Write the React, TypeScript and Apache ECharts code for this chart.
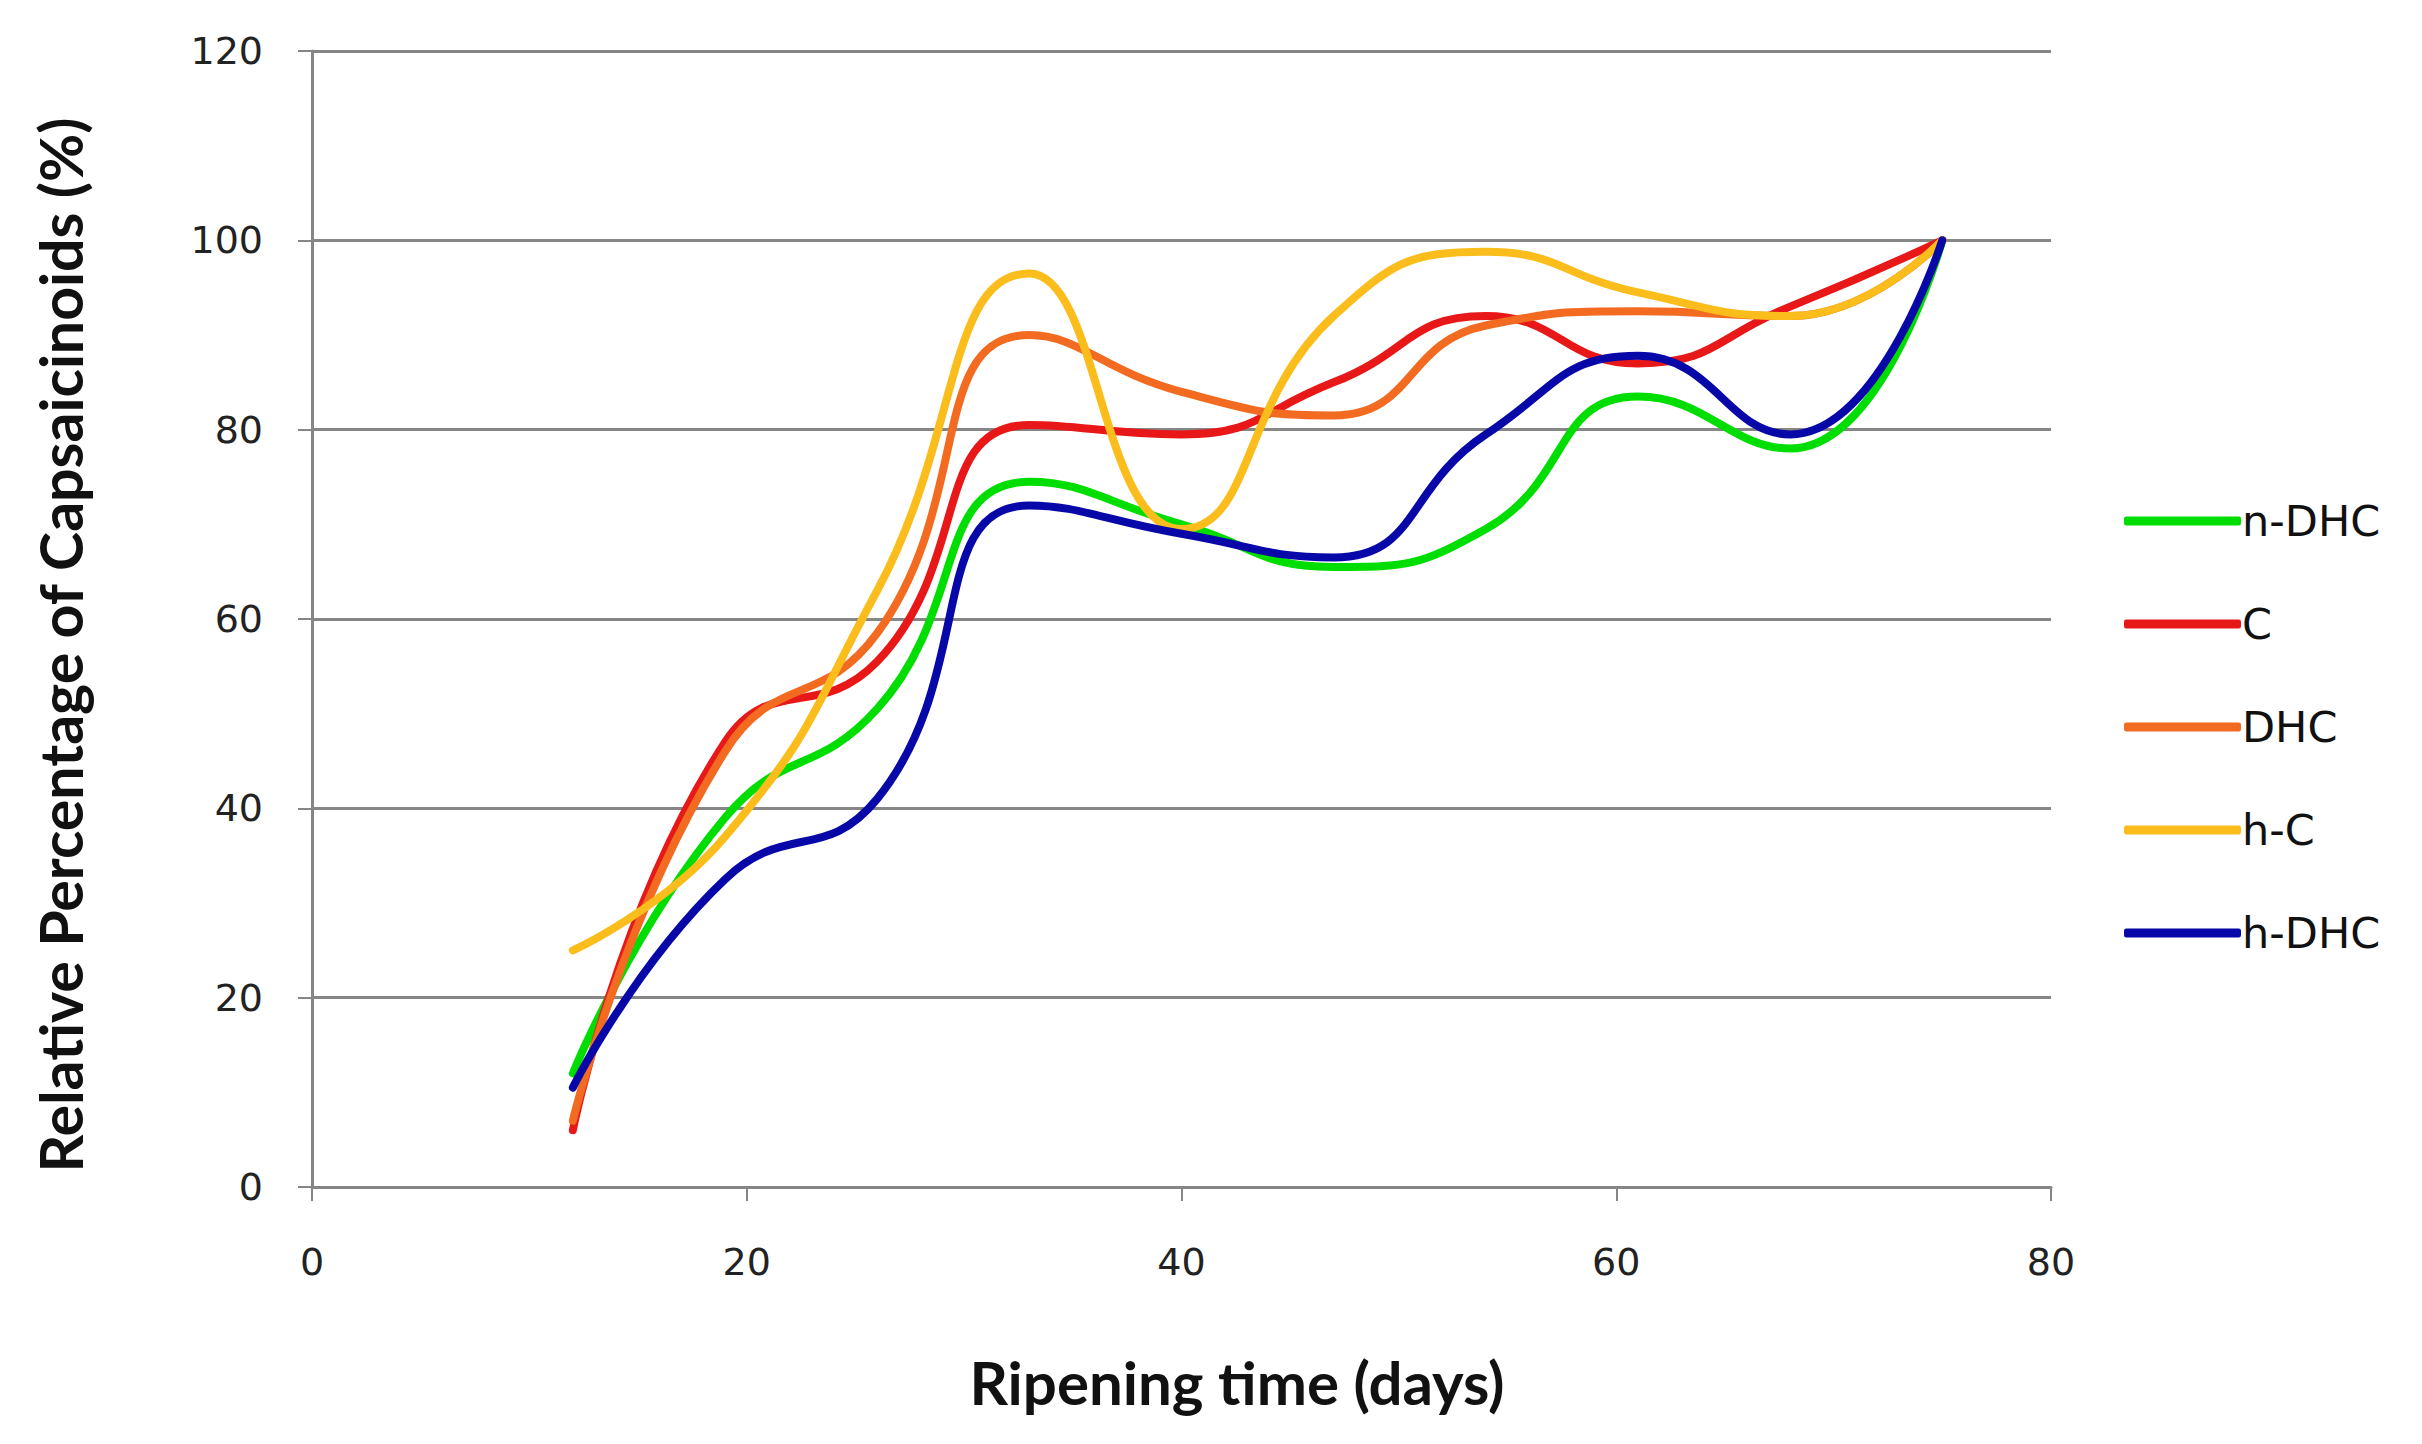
import React, { useEffect, useRef } from "react";
import * as echarts from "echarts";

const days = [12, 19, 26, 33, 40, 47, 54, 61, 68, 75];
const seriesNames = ["n-DHC", "C", "DHC", "h-C", "h-DHC"];
const nDHC = [12, 39, 50.5, 74.5, 70, 65.5, 69.5, 83.5, 78, 100];
const cap = [6, 47, 55.5, 80.5, 79.5, 85, 92, 87, 93, 100];
const dhc = [7, 46, 58.5, 90, 84, 81.5, 91, 92.5, 92, 100];
const hC = [25, 37, 63, 96.5, 69.5, 92, 98.8, 94.5, 92, 100];
const hDHC = [10.5, 32.5, 41, 72, 69, 66.5, 79.5, 87.8, 79.5, 100];
const seriesValues = [nDHC, cap, dhc, hC, hDHC];
const colors = ["#00dd00", "#e81818", "#f26b20", "#fabd1c", "#0808a8"];
const xTitle = "Ripening time (days)";
const yTitle = "Relative Percentage of Capsaicinoids (%)";

export default function App() {
  const ref = useRef<HTMLDivElement>(null);
  useEffect(() => {
    if (!ref.current) return;
    const chart = echarts.init(ref.current, undefined, { renderer: "svg" });
    const gray = "#868686";
    chart.setOption({
      animation: false,
      backgroundColor: "#ffffff",
      grid: { left: 312, right: 371, top: 51, bottom: 257, containLabel: false },
      xAxis: {
        type: "value",
        min: 0,
        max: 80,
        interval: 20,
        axisLine: { show: true, lineStyle: { color: gray, width: 3 } },
        axisTick: { show: true, inside: false, length: 14, lineStyle: { color: gray, width: 2 } },
        splitLine: { show: false },
        axisLabel: { margin: 56, fontFamily: "DejaVu Sans", fontSize: 38, color: "#222" },
      },
      yAxis: {
        type: "value",
        min: 0,
        max: 120,
        interval: 20,
        axisLine: { show: true, lineStyle: { color: gray, width: 3 } },
        axisTick: { show: true, inside: false, length: 14, lineStyle: { color: gray, width: 2 } },
        splitLine: { show: true, lineStyle: { color: gray, width: 3 } },
        axisLabel: { margin: 49, fontFamily: "DejaVu Sans", fontSize: 38, color: "#222" },
      },
      legend: {
        orient: "vertical",
        left: 2119,
        top: 491,
        icon: "roundRect",
        itemWidth: 117,
        itemHeight: 9,
        itemGap: 53,
        textStyle: { fontFamily: "DejaVu Sans", fontSize: 43, color: "#111", lineHeight: 50, padding: [0, 0, 0, -4] },
        data: seriesNames,
      },
      graphic: [
        {
          type: "text",
          x: 1237,
          y: 1382,
          style: {
            text: xTitle,
            font: "bold 60px Lato",
            fill: "#111",
            textAlign: "center",
            textVerticalAlign: "middle",
          },
        },
        {
          type: "text",
          x: 60,
          y: 645,
          rotation: Math.PI / 2,
          style: {
            text: yTitle,
            font: "bold 59px Lato",
            fill: "#111",
            textAlign: "center",
            textVerticalAlign: "middle",
          },
        },
      ],
      series: seriesNames.map((name, i) => ({
        name,
        type: "line",
        smooth: 0.5,
        symbol: "none",
        showSymbol: false,
        color: colors[i],
        lineStyle: { color: colors[i], width: 8, cap: "round" },
        data: days.map((d, j) => [d, seriesValues[i][j]]),
      })),
    });
    return () => chart.dispose();
  }, []);
  return <div ref={ref} style={{ position: "fixed", left: 0, top: 0, width: 2422, height: 1444 }} />;
}
